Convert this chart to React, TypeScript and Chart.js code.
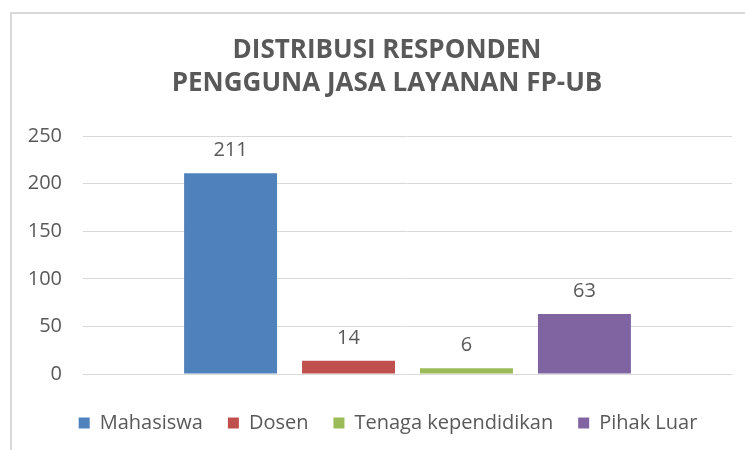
import React, { useEffect, useRef } from "react";
import { Chart, registerables } from "chart.js";

Chart.register(...registerables);

const titleLines = ["DISTRIBUSI RESPONDEN", "PENGGUNA JASA LAYANAN FP-UB"];
const seriesNames = ["Mahasiswa", "Dosen", "Tenaga kependidikan", "Pihak Luar"];
const seriesValues = [211, 14, 6, 63];
const seriesColors = ["#4F81BD", "#C0504D", "#9BBB59", "#8064A2"];
const categories = [""];
const yTicks = [0, 50, 100, 150, 200, 250];

const FONT = "'Open Sans', sans-serif";
const TEXT = "#595959";

const dataLabels = {
  id: "dataLabels",
  afterDatasetsDraw(chart: any) {
    const ctx = chart.ctx;
    ctx.save();
    ctx.font = `20px ${FONT}`;
    ctx.fillStyle = TEXT;
    ctx.textAlign = "center";
    ctx.textBaseline = "alphabetic";
    chart.data.datasets.forEach((ds: any, i: number) => {
      const meta = chart.getDatasetMeta(i);
      meta.data.forEach((bar: any, j: number) => {
        ctx.fillText(String(ds.data[j]), bar.x, bar.y - 17);
      });
    });
    ctx.restore();
  },
};

const shiftBoxes = {
  id: "shiftBoxes",
  afterLayout(chart: any) {
    const l = chart.legend;
    if (l) {
      l.left += 9;
      l.right += 9;
    }
    const t = chart.titleBlock;
    if (t) {
      t.left += 8;
      t.right += 8;
    }
  },
};

export default function App() {
  const ref = useRef<HTMLCanvasElement>(null);
  useEffect(() => {
    if (!ref.current) return;
    const chart = new Chart(ref.current, {
      type: "bar",
      data: {
        labels: categories,
        datasets: seriesNames.map((name, i) => ({
          label: name,
          data: [seriesValues[i]],
          backgroundColor: seriesColors[i],
          borderWidth: 0,
          categoryPercentage: 0.727,
          barPercentage: 0.788,
        })),
      },
      options: {
        responsive: false,
        animation: false,
        layout: { padding: { left: 14, right: 28, top: 0, bottom: 0 } },
        plugins: {
          title: {
            display: true,
            text: titleLines,
            color: TEXT,
            font: { family: FONT, size: 26, weight: "bold", lineHeight: 1.27 },
            padding: { top: 20, bottom: 36 },
          },
          legend: {
            display: true,
            position: "bottom",
            labels: {
              boxWidth: 11,
              boxHeight: 11,
              padding: 25,
              color: TEXT,
              font: { family: FONT, size: 20 },
            },
          },
          tooltip: { enabled: false },
        },
        scales: {
          x: {
            ticks: { display: false },
            grid: { display: false, drawTicks: false },
            border: { display: false },
            afterFit: (s: any) => {
              s.height = 14;
            },
          },
          y: {
            min: 0,
            max: 250,
            afterBuildTicks: (s: any) => {
              s.ticks = yTicks.map((v) => ({ value: v }));
            },
            ticks: {
              color: TEXT,
              padding: 21,
              font: { family: FONT, size: 20 },
            },
            grid: { color: "#D9D9D9", lineWidth: 1, drawTicks: false },
            border: { display: false },
            afterFit: (s: any) => {
              s.width = 57;
            },
          },
        },
      },
      plugins: [dataLabels, shiftBoxes],
    });
    return () => chart.destroy();
  }, []);

  return (
    <div
      style={{
        position: "absolute",
        left: 0,
        top: 0,
        width: 745,
        height: 450,
        overflow: "hidden",
        background: "#fff",
      }}
    >
      <div
        style={{
          position: "absolute",
          left: 10,
          top: 12,
          width: 770,
          height: 450,
          borderLeft: "2px solid #D9D9D9",
          borderTop: "2px solid #D9D9D9",
        }}
      >
        <canvas
          ref={ref}
          width={748}
          height={429}
          style={{ position: "absolute", left: 0, top: 0, width: 748, height: 429 }}
        />
      </div>
    </div>
  );
}
